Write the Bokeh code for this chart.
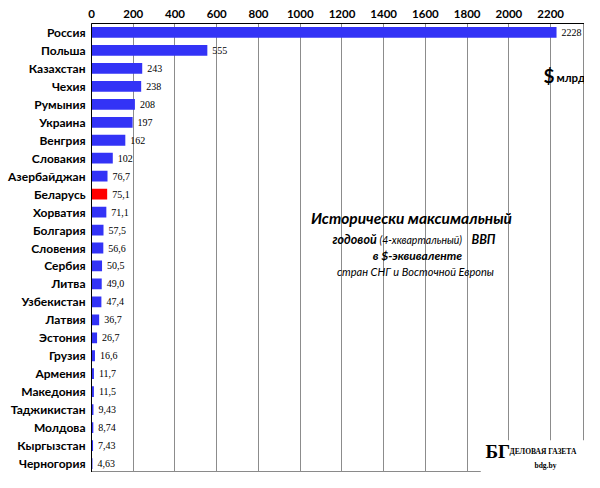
from bokeh.plotting import figure
from bokeh.models import (ColumnDataSource, FactorRange, Range1d, FixedTicker,
                          LabelSet, Label, BoxAnnotation)
from bokeh.embed import file_html
from bokeh.resources import INLINE

countries = ["Россия", "Польша", "Казахстан", "Чехия", "Румыния", "Украина",
             "Венгрия", "Словакия", "Азербайджан", "Беларусь", "Хорватия",
             "Болгария", "Словения", "Сербия", "Литва", "Узбекистан", "Латвия",
             "Эстония", "Грузия", "Армения", "Македония", "Таджикистан",
             "Молдова", "Кыргызстан", "Черногория"]
values = [2228, 555, 243, 238, 208, 197, 162, 102, 76.7, 75.1, 71.1, 57.5,
          56.6, 50.5, 49.0, 47.4, 36.7, 26.7, 16.6, 11.7, 11.5, 9.43, 8.74,
          7.43, 4.63]
value_labels = ["2228", "555", "243", "238", "208", "197", "162", "102",
                "76,7", "75,1", "71,1", "57,5", "56,6", "50,5", "49,0", "47,4",
                "36,7", "26,7", "16,6", "11,7", "11,5", "9,43", "8,74", "7,43",
                "4,63"]
x_ticks = [0, 200, 400, 600, 800, 1000, 1200, 1400, 1600, 1800, 2000, 2200]
highlight = "Беларусь"

BLUE = "#3333F6"
RED = "#FF0000"
FONT = "Lato"

colors = [RED if c == highlight else BLUE for c in countries]
src = ColumnDataSource(dict(country=countries, value=values,
                            label=value_labels, color=colors))

p = figure(width=584, height=472, output_backend="svg", toolbar_location=None,
           x_axis_location="above",
           y_range=FactorRange(factors=list(reversed(countries)), range_padding=0),
           x_range=Range1d(0, 2362),
           min_border_left=91, min_border_right=0, min_border_top=23,
           min_border_bottom=0)
p.background_fill_color = "white"
p.border_fill_color = "white"
p.outline_line_color = "#8a8a8a"

p.hbar(y="country", left=0, right="value", height=0.6, source=src,
       fill_color="color", line_color=None)

labels = LabelSet(x="value", y="country", text="label", source=src,
                  x_offset=5, text_baseline="middle", text_font=FONT,
                  text_font_size="10px", text_color="black")
p.add_layout(labels)

# axes
xa = p.xaxis[0]
xa.ticker = FixedTicker(ticks=x_ticks)
xa.major_label_text_font = FONT
xa.major_label_text_font_style = "bold"
xa.major_label_text_font_size = "11.5px"
xa.major_label_text_color = "black"
xa.major_tick_out = 0
xa.major_tick_in = 0
xa.minor_tick_out = 0
xa.minor_tick_in = 0
xa.major_label_standoff = 6
xa.axis_line_color = "black"

ya = p.yaxis[0]
ya.major_label_text_font = FONT
ya.major_label_text_font_style = "bold"
ya.major_label_text_font_size = "12px"
ya.major_label_text_color = "black"
ya.major_tick_out = 0
ya.major_tick_in = 0
ya.major_label_standoff = 6
ya.axis_line_color = "black"

p.xgrid.ticker = FixedTicker(ticks=x_ticks[1:])
p.xgrid.grid_line_color = "#8c8c8c"
p.xgrid.grid_line_width = 1
p.ygrid.grid_line_color = None

# white patch under the logo
p.add_layout(BoxAnnotation(left=1865, top=1.8, fill_color="white",
                           fill_alpha=1, line_color=None))

def lab(text, x, y, size, style="normal", align="left", font=FONT, color="black"):
    p.add_layout(Label(x=x, y=y, x_units="screen", y_units="screen", text=text,
                       text_font=font, text_font_size=size,
                       text_font_style=style, text_align=align,
                       text_baseline="middle", text_color=color))

# annotation block
lab("Исторически максимальный", 320, 255, "15.5px", "bold italic", "center")
lab("годовой", 241, 233, "12.5px", "bold italic")
lab("(4-хквартальный)", 288, 233, "10.5px", "italic")
lab("ВВП", 380, 233, "12.5px", "bold italic")
lab("в $-эквиваленте", 326, 217, "12px", "bold italic", "center")
lab("стран СНГ и Восточной Европы", 324, 201, "11px", "italic", "center")

# unit
lab("$", 452, 397, "19px", "bold")
lab("млрд", 465, 395, "11.5px", "bold")

# logo
lab("БГ", 394, 21, "19px", "bold", font="Liberation Serif")
lab("ДЕЛОВАЯ ГАЗЕТА", 418, 21, "7.5px", "bold", font="Liberation Serif")
lab("bdg.by", 443, 7, "7.5px", "bold", font="Liberation Serif")

open("out.html", "w").write(file_html(p, INLINE))
